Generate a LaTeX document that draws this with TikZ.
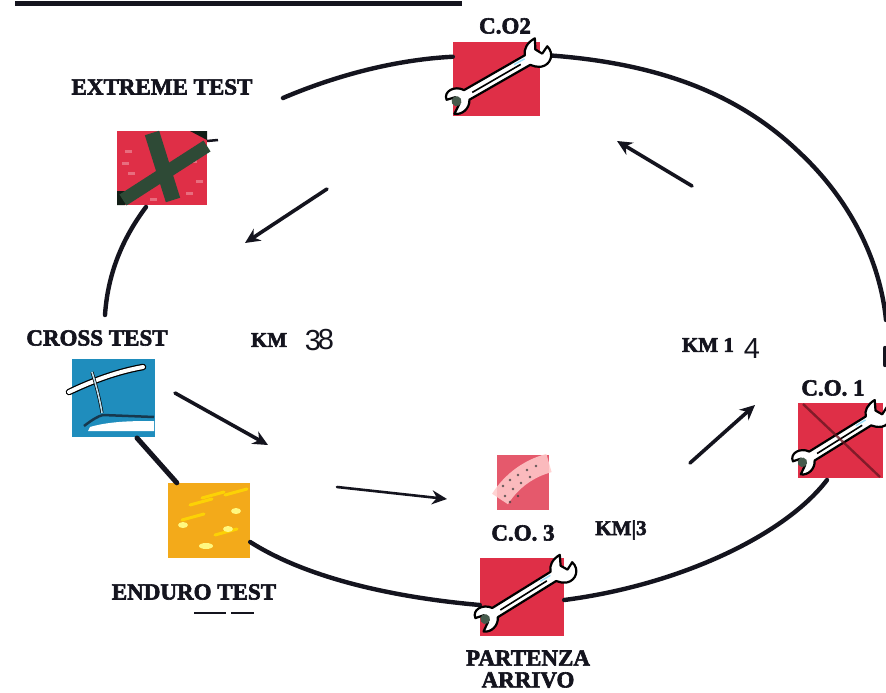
\documentclass[tikz,border=0pt]{standalone}
\usepackage{fontspec}
\setmainfont{Liberation Serif}
\newfontfamily\labfont[FakeBold=2.6]{Liberation Serif Bold}
\newfontfamily\handfont{Liberation Sans}
\usetikzlibrary{arrows.meta}
\definecolor{ink}{HTML}{14141E}
\definecolor{boxred}{HTML}{DF2F47}
\definecolor{boxorange}{HTML}{F3AA1A}
\definecolor{boxblue}{HTML}{1F8DBD}
\definecolor{xgreen}{HTML}{2E4A36}
\tikzset{
  redbox/.style={fill=boxred,inner sep=0pt},
  lab/.style={text=ink,inner sep=0pt,font=\labfont\fontsize{23}{25}\selectfont},
  hand/.style={text=ink,inner sep=0pt,font=\handfont\fontsize{29}{31}\selectfont},
  ring/.style={draw=ink,line width=4.4pt,line cap=round},
  flow/.style={draw=ink,line width=3.6pt,line cap=round,-{Stealth[length=15pt,width=14pt]}},
  wrenchpic/.pic={
    \path[fill=white,draw=black,line width=2.2pt,line join=round]
      (-36,-5) -- (34,-6)
      .. controls (36,-12) and (42,-16) .. (51,-16)
      -- (46,-6) -- (50,1) -- (58,-3)
      .. controls (61,7) and (52,15) .. (43,12)
      .. controls (39,10) and (36,8) .. (34,5)
      -- (-36,6)
      .. controls (-40,14) and (-50,16) .. (-56,11)
      -- (-47,5) -- (-47,-3) -- (-56,-5)
      .. controls (-55,-14) and (-42,-14) .. (-36,-5) -- cycle;
    \fill[xgreen!70!gray] (-48,1) circle (5);
    \draw[black,line width=1.6pt] (-30,1) -- (26,0);
    \draw[cyan!40,line width=1.4pt] (20,-3) -- (32,-3);
  },
}
\begin{document}
\begin{tikzpicture}[x=1pt,y=-1pt]
\useasboundingbox (0,0) rectangle (886,693);
\fill[white] (0,0) rectangle (886,693);

% coordinates for the free ends
\coordinate (titleL) at (15,4);
\coordinate (titleR) at (462,4);
\coordinate (ringG) at (283,98);
\coordinate (ringF) at (105,315);
\coordinate (ringR1) at (800,153);
\coordinate (ringR2) at (886,320);
\coordinate (ringB1) at (885,348);
\coordinate (ringB2) at (885,365);
\coordinate (a1s) at (692,186);
\coordinate (a1e) at (617,141);
\coordinate (a2s) at (327,189);
\coordinate (a2e) at (245,243);
\coordinate (a3s) at (175,393);
\coordinate (a3e) at (268,445);
\coordinate (a4s) at (337,487);
\coordinate (a4e) at (447,499);
\coordinate (a5s) at (690,463);
\coordinate (a5e) at (755,405);

% boxes
\node[redbox,minimum width=87pt,minimum height=74pt] (co2) at (496.5,79) {};
\node[redbox,minimum width=90pt,minimum height=74pt] (extreme) at (162,168) {};
\node[fill=boxblue,inner sep=0pt,minimum width=83pt,minimum height=78pt] (cross) at (113.5,398) {};
\node[fill=boxorange,inner sep=0pt,minimum width=82pt,minimum height=75pt] (enduro) at (209,520.5) {};
\node[redbox,minimum width=84pt,minimum height=78pt] (partenza) at (522,597) {};
\node[fill=boxred!80!white,inner sep=0pt,minimum width=52pt,minimum height=55pt] (co3) at (523,482.5) {};
\node[redbox,minimum width=85pt,minimum height=75pt] (co1) at (840.5,440.5) {};

% ring
\draw[ring] (co2.29) .. controls (660,62) and (740,95) .. (ringR1)
            .. controls (850,200) and (880,260) .. (ringR2);
\draw[ring] (ringB1) -- (ringB2);
\draw[ring] (827,480) .. controls (785,535) and (680,585) .. (partenza.east|-0,600);
\draw[ring] (partenza.west|-0,605) .. controls (400,598) and (310,580) .. (enduro.east|-0,542);
\draw[ring,line width=5pt] (enduro.north west) ++(9,0) -- (137,438);
\draw[ring] (ringF) .. controls (108,270) and (125,235) .. (146,207);
\draw[ring] (ringG) .. controls (330,78) and (390,60) .. (co2.153);

% title rule
\draw[ink,line width=5pt] (titleL) -- (titleR);

% arrows
\draw[flow] (a1s) -- (a1e);
\draw[flow] (a2s) -- (a2e);
\draw[flow] (a3s) -- (a3e);
\draw[flow,line width=2.6pt] (a4s) -- (a4e);
\draw[flow] (a5s) -- (a5e);

% picture details
\pic[rotate=29] at (498,77) {wrenchpic};
\pic[rotate=31,scale=.98] at (525,594) {wrenchpic};
\pic[rotate=31,scale=.95] at (841,438) {wrenchpic};
\draw[boxred!45!black,line width=2.4pt,opacity=.75] (803,404) -- (880,477);

% extreme test: mottling and cross
\foreach \a/\b in {125/150,128/172,132/190,190/160,196/180,186/192,150/198,122/162}
  \fill[white,opacity=.3] (\a,\b) rectangle ++(7,3);
\fill[xgreen!40!black] (117,191) -- (135,191) -- (125,205) -- (117,205) -- cycle;
\fill[xgreen!40!black] (190,131) -- (207,131) -- (207,140) -- cycle;
\draw[xgreen,line width=15pt] (152,133) -- (173,200);
\draw[xgreen,line width=13pt] (207,146) -- (123,200);
\draw[ink,line width=2.5pt] (207,141) -- (218,140);

% cross test details
\draw[black,line width=6.5pt,line cap=round] (69,392) .. controls (90,382) and (115,372) .. (143,367);
\draw[white,line width=4pt,line cap=round] (69,392) .. controls (90,382) and (115,372) .. (143,367);
\draw[black,line width=3pt] (92,372) .. controls (96,385) and (100,400) .. (102,413);
\draw[white!70!boxblue,line width=1.6pt] (92,372) .. controls (96,385) and (100,400) .. (102,413);
\draw[ink!70!boxblue,line width=2.5pt] (84,426) .. controls (92,420) and (98,416) .. (103,415) -- (154,417);
\fill[white] (90,427) .. controls (110,421) and (135,421) .. (154,421) -- (154,431) -- (88,431) -- cycle;

% enduro details
\foreach \p/\q in {202/498,182/520,215/535,190/505,225/495}
  \draw[yellow!70!orange,line width=3pt,line cap=round] (\p,\q) -- ++(22,-6);
\fill[white!50!yellow] (183,525) ellipse (5 and 3);
\fill[white!50!yellow] (236,511) ellipse (5 and 3);
\fill[white!50!yellow] (228,529) ellipse (5 and 3);
\fill[white!50!yellow] (206,546) ellipse (7 and 3);

% c.o.3 details
\draw[red!20!white,line width=19pt,opacity=.85] (500,499) .. controls (512,480) and (530,468) .. (549,463);
\foreach \a/\b in {503/486,510/480,518/475,527/470,536/466,505/496,513/489,521/483,530/477,510/502,518/496}
  \fill[black!75,opacity=.8] (\a,\b) circle (1.4);

% labels
\node[lab] (lco2) at (505,26) {C.O2};
\node[lab] (lextreme) at (162,87) {EXTREME TEST};
\node[lab] (lcross) at (97,338) {CROSS TEST};
\node[lab] (lenduro) at (194,592) {ENDURO TEST};
\node[lab] (lco3) at (523,533) {C.O. 3};
\node[lab] (lco1) at (833,388) {C.O. 1};
\node[lab] (lpart) at (528,658) {PARTENZA};
\node[lab] (larr) at (528,680) {ARRIVO};
\node[lab,font=\labfont\fontsize{21}{23}\selectfont] (lkm38) at (269,340) {KM};
\node[hand] (h3) at (313,341) {3};
\node[hand] (h8) at (326,340) {8};
\node[lab,font=\labfont\fontsize{21}{23}\selectfont] (lkm14) at (708,345) {KM 1};
\node[hand] (h4) at (752,349) {4};
\node[lab,font=\labfont\fontsize{21}{23}\selectfont] (lkm3) at (621,530) {KM|3};

% small underline beneath TEST
\draw[ink,line width=1.5pt] (194,613) -- (226,613);
\draw[ink,line width=1.5pt] (231,613) -- (254,613);
\end{tikzpicture}
\end{document}
